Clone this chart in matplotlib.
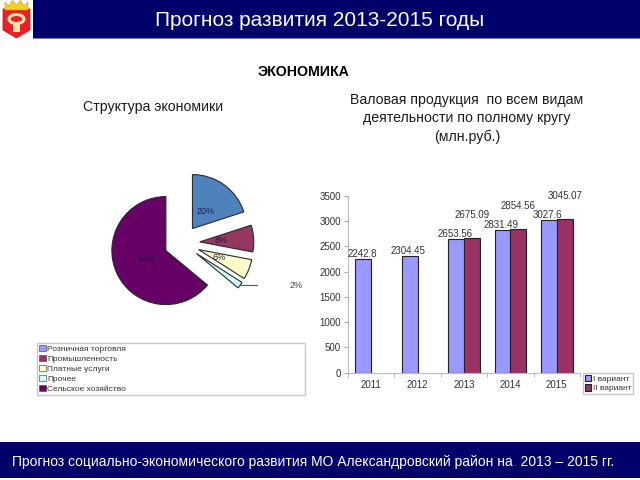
import numpy as np
import matplotlib
matplotlib.use("Agg")
import matplotlib.pyplot as plt
from matplotlib.patches import Patch, Rectangle, Polygon, Ellipse

plt.rcParams['font.family'] = ['Liberation Sans', 'DejaVu Sans']

# --- data ---
sectors = ['Розничная торговля', 'Промышленность', 'Платные услуги',
           'Прочее', 'Сельское хозяйство']
shares = [20, 8, 6, 2, 64]
pie_colors = ['#4F81BD', '#953760', '#FFFFCC', '#CCFFFF', '#660066']
legend_colors = ['#9999FF', '#993366', '#FFFFCC', '#CCFFFF', '#660066']

years = ['2011', '2012', '2013', '2014', '2015']
variant1 = [2242.8, 2304.45, 2653.56, 2831.49, 3027.6]
variant2 = [None, None, 2675.09, 2854.56, 3045.07]
series_names = ['I вариант', 'II вариант']

fig = plt.figure(figsize=(6.4, 4.8), dpi=100)
W, H = 640, 480


def box(x0, y0, x1, y1):
    # pixel box (top-left origin) -> figure fraction rect
    return [x0 / W, 1 - y1 / H, (x1 - x0) / W, (y1 - y0) / H]


# header / footer bands
fig.patches.append(Rectangle((33 / W, 1 - 38 / H), 1, 38 / H, transform=fig.transFigure,
                             facecolor='#00006B', edgecolor='none'))
fig.patches.append(Rectangle((33 / W, 1 - 39 / H), 1, 1.2 / H, transform=fig.transFigure,
                             facecolor='#6A7FB8', edgecolor='none'))
fig.patches.append(Rectangle((0, 2 / H), 1, 36 / H, transform=fig.transFigure,
                             facecolor='#00006B', edgecolor='none'))
fig.text(320 / W, 1 - 20 / H, 'Прогноз развития 2013-2015 годы', color='white',
         fontsize=15, ha='center', va='center')
fig.text(12 / W, 1 - 462 / H,
         'Прогноз социально-экономического развития МО Александровский район на  2013 – 2015 гг.',
         color='white', fontsize=10, ha='left', va='center')

# simple emblem
emb = fig.add_axes(box(0, 0, 33, 40))
emb.set_xlim(0, 33)
emb.set_ylim(40, 0)
emb.axis('off')
emb.add_patch(Polygon([[3, 9], [30, 9], [30, 30], [16.5, 38], [3, 30]],
                      closed=True, facecolor='#E8202A', edgecolor='#B01018', lw=0.5))
emb.add_patch(Polygon([[5, 10], [5, 2], [9, 6], [12.5, 0.5], [16.5, 5], [20.5, 0.5],
                       [24, 6], [28, 2], [28, 10]],
                      closed=True, facecolor='#F6D21A', edgecolor='#C89A10', lw=0.4))
emb.add_patch(Ellipse((16.5, 19), 15, 9, facecolor='none', edgecolor='#F4E6B0', lw=2.2))
emb.add_patch(Rectangle((13, 23), 7, 9, facecolor='#F4E6B0', edgecolor='none'))

# titles
fig.text(304 / W, 1 - 72 / H, 'ЭКОНОМИКА', fontsize=10.2, fontweight='bold',
         ha='center', va='center')
fig.text(153 / W, 1 - 106.5 / H, 'Структура экономики', fontsize=10.2,
         ha='center', va='center', color='#1A1A1A')
fig.text(467 / W, 1 - 118.5 / H,
         'Валовая продукция  по всем видам\nдеятельности по полному кругу\n(млн.руб.)',
         fontsize=10.2, ha='center', va='center', linespacing=1.4, color='#1A1A1A')

# --- pie ---
R = 54.0
cx, cy = 182, 243
pax = fig.add_axes(box(cx - 120, cy - 100, cx + 120, cy + 100))
wedges, texts, autotexts = pax.pie(
    shares, colors=pie_colors, startangle=90, counterclock=False,
    explode=[0.33] * len(shares), autopct=lambda p: f'{p:.0f}%',
    pctdistance=0.4, textprops=dict(fontsize=6.5, color='#1E1E50'),
    wedgeprops=dict(edgecolor='#2A2A2A', linewidth=0.8))
pax.set_xlim(-120 / R, 120 / R)
pax.set_ylim(-100 / R, 100 / R)
pax.set_aspect('auto')

# "2%" label moved outside with a leader line
idx = 3
start = 90 - 3.6 * sum(shares[:idx])
mid = np.deg2rad(start - 3.6 * shares[idx] / 2)
tip = (1.33 * np.cos(mid), 1.33 * np.sin(mid))
pax.plot([tip[0], tip[0] + 0.32], [tip[1], tip[1]], color='#555555', lw=0.8)
autotexts[idx].set_position((2.11, tip[1]))
autotexts[idx].set_color('#444444')

fig.legend([Patch(facecolor=c, edgecolor='#555555', lw=0.5) for c in legend_colors],
           sectors, loc='upper left', bbox_to_anchor=box(37, 343, 305, 397),
           mode='expand', fontsize=6, frameon=True, fancybox=False,
           edgecolor='#BBBBBB', borderpad=0.25, labelspacing=0.22,
           handlelength=0.8, handleheight=0.8, handletextpad=0.2,
           borderaxespad=0, labelcolor='#333333')

# --- bars ---
bax = fig.add_axes(box(348, 196, 580, 372.7))
x = np.arange(len(years))
w = 0.34
v2_idx = [i for i, v in enumerate(variant2) if v is not None]
b1 = bax.bar(x - w / 2, variant1, w, color='#9999FF', edgecolor='#222222', lw=0.8)
b2 = bax.bar(x[v2_idx] + w / 2, [variant2[i] for i in v2_idx], w, color='#993366',
             edgecolor='#222222', lw=0.8)
for xi, v in zip(x, variant1):
    bax.annotate(f'{v:g}', (xi - w / 2, v), xytext=(-1, 0), textcoords='offset points',
                 ha='center', va='bottom', fontsize=7, color='#333333')
for i in v2_idx:
    bax.annotate(f'{variant2[i]:.2f}', (x[i] + w / 2, variant2[i]), xytext=(0, 13),
                 textcoords='offset points', ha='center', va='bottom', fontsize=7,
                 color='#333333')
bax.set_xlim(-0.5, len(years) - 0.5)
bax.set_ylim(0, 3500)
bax.set_yticks(np.arange(0, 3501, 500))
bax.set_xticks(x)
bax.set_xticklabels(years)
bax.set_xticks(np.arange(-0.5, len(years)), minor=True)
bax.tick_params(axis='x', which='major', length=0, labelsize=7, labelcolor='#333333', pad=5)
bax.tick_params(axis='x', which='minor', length=3, color='#AAAAAA', direction='out')
bax.tick_params(axis='y', length=3, color='#AAAAAA', labelsize=7, labelcolor='#333333', pad=2)
for s in ['top', 'right']:
    bax.spines[s].set_visible(False)
for s in ['left', 'bottom']:
    bax.spines[s].set_color('#BBBBBB')
    bax.spines[s].set_linewidth(0.8)

fig.legend([b1, b2], series_names, loc='upper left', bbox_to_anchor=box(583, 373, 640, 400),
           fontsize=6, frameon=True, fancybox=False, edgecolor='#BBBBBB',
           borderpad=0.2, labelspacing=0.2, handlelength=0.8, handleheight=0.8,
           handletextpad=0.2, borderaxespad=0, labelcolor='#333333')

fig.savefig('out.png', dpi=100)
